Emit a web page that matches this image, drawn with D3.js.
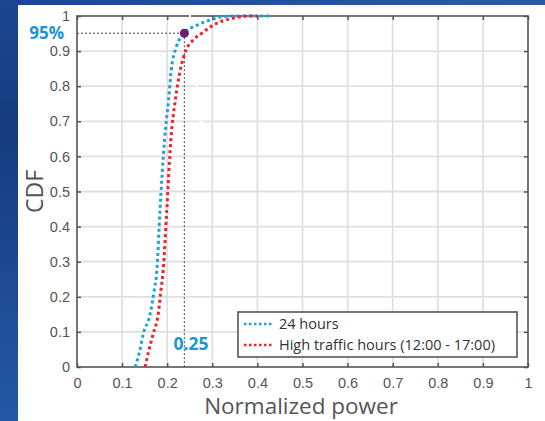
<!DOCTYPE html>
<html>
<head>
<meta charset="utf-8">
<script src="https://cdn.jsdelivr.net/npm/d3@7"></script>
<style>
  html, body { margin: 0; padding: 0; background: #fff; }
  svg { display: block; }
</style>
</head>
<body>
<div id="chart"></div>
<script>
// CDF values
const allDayX = [0.129, 0.138, 0.147, 0.162, 0.171, 0.177, 0.184, 0.194, 0.203, 0.209, 0.220, 0.238, 0.266, 0.296, 0.318, 0.350, 0.430];
const allDayY = [0, 0.04, 0.095, 0.15, 0.217, 0.274, 0.446, 0.646, 0.76, 0.846, 0.911, 0.951, 0.974, 0.989, 0.997, 1, 1];
const peakX = [0.151, 0.158, 0.169, 0.180, 0.186, 0.191, 0.199, 0.208, 0.218, 0.229, 0.242, 0.257, 0.277, 0.302, 0.347, 0.380, 0.400];
const peakY = [0, 0.04, 0.095, 0.15, 0.217, 0.274, 0.446, 0.646, 0.76, 0.846, 0.903, 0.931, 0.951, 0.974, 0.994, 1, 1];
const seriesNames = ['24 hours', 'High traffic hours (12:00 - 17:00)'];
const xTicks = [0, 0.1, 0.2, 0.3, 0.4, 0.5, 0.6, 0.7, 0.8, 0.9, 1];
const yTicks = [0, 0.1, 0.2, 0.3, 0.4, 0.5, 0.6, 0.7, 0.8, 0.9, 1];
const marker = { x: 0.238, y: 0.951, xLabel: '0.25', yLabel: '95%' };

const width = 545, height = 421;
const blue = '#1aa3dc', red = '#e8262b', axisCol = '#555', gridCol = '#e0e0e0';

const svg = d3.select('#chart').append('svg')
    .attr('width', width)
    .attr('height', height)
    .style('font-family', '"Open Sans", sans-serif');

// slide background
const defs = svg.append('defs');
const gl = defs.append('linearGradient').attr('id', 'bgLeft').attr('x1', 0).attr('y1', 0).attr('x2', 0).attr('y2', 1);
gl.append('stop').attr('offset', '0%').attr('stop-color', '#1c4790');
gl.append('stop').attr('offset', '30%').attr('stop-color', '#163b7e');
gl.append('stop').attr('offset', '100%').attr('stop-color', '#2558a5');
const gt = defs.append('linearGradient').attr('id', 'bgTop').attr('x1', 0).attr('y1', 0).attr('x2', 1).attr('y2', 0);
gt.append('stop').attr('offset', '0%').attr('stop-color', '#1c4790');
gt.append('stop').attr('offset', '100%').attr('stop-color', '#2a5ca6');

svg.append('rect').attr('width', width).attr('height', 5).attr('fill', 'url(#bgTop)');
svg.append('rect').attr('width', 18).attr('height', height).attr('fill', 'url(#bgLeft)');

const margin = { left: 77, right: 17, top: 16, bottom: 54 };
const x = d3.scaleLinear().domain([0, 1]).range([margin.left, width - margin.right]);
const y = d3.scaleLinear().domain([0, 1]).range([height - margin.bottom, margin.top]);

// grid
svg.append('g').selectAll('line.gx')
    .data(xTicks.slice(1, -1)).enter().append('line')
    .attr('x1', d => x(d)).attr('x2', d => x(d))
    .attr('y1', y(0)).attr('y2', y(1))
    .attr('stroke', gridCol).attr('stroke-width', 1.8);
svg.append('g').selectAll('line.gy')
    .data(yTicks.slice(1, -1)).enter().append('line')
    .attr('x1', x(0)).attr('x2', x(1))
    .attr('y1', d => y(d)).attr('y2', d => y(d))
    .attr('stroke', gridCol).attr('stroke-width', 1.8);

// axes with inward ticks
function styleAxis(g) {
    g.select('.domain').remove();
    g.selectAll('.tick line').attr('stroke', axisCol).attr('stroke-width', 1.5);
    g.selectAll('.tick text').attr('fill', axisCol).style('font-size', '14.5px');
}
svg.append('g').attr('transform', `translate(0,${y(0)})`)
    .call(d3.axisBottom(x).tickValues(xTicks).tickSize(-4).tickPadding(11).tickFormat(d3.format('~g')))
    .call(styleAxis);
svg.append('g').attr('transform', `translate(0,${y(1)})`)
    .call(d3.axisTop(x).tickValues(xTicks).tickSize(-4).tickFormat(''))
    .call(styleAxis);
svg.append('g').attr('transform', `translate(${x(0)},0)`)
    .call(d3.axisLeft(y).tickValues(yTicks).tickSize(-4).tickPadding(7).tickFormat(d3.format('~g')))
    .call(styleAxis);
svg.append('g').attr('transform', `translate(${x(1)},0)`)
    .call(d3.axisRight(y).tickValues(yTicks).tickSize(-4).tickFormat(''))
    .call(styleAxis);

svg.append('rect')
    .attr('x', x(0)).attr('y', y(1))
    .attr('width', x(1) - x(0)).attr('height', y(0) - y(1))
    .attr('fill', 'none').attr('stroke', axisCol).attr('stroke-width', 1.6);

// axis titles
svg.append('text')
    .attr('x', 301).attr('y', 414)
    .attr('text-anchor', 'middle')
    .attr('fill', axisCol).style('font-size', '22.5px')
    .text('Normalized power');
svg.append('text')
    .attr('transform', `translate(43,${(y(0) + y(1)) / 2}) rotate(-90)`)
    .attr('text-anchor', 'middle')
    .attr('fill', axisCol).style('font-size', '23px')
    .text('CDF');

// reference lines
svg.append('line')
    .attr('x1', x(0)).attr('x2', x(marker.x))
    .attr('y1', y(marker.y)).attr('y2', y(marker.y))
    .attr('stroke', '#444').attr('stroke-width', 1).attr('stroke-dasharray', '2,2');
svg.append('line')
    .attr('x1', x(marker.x)).attr('x2', x(marker.x))
    .attr('y1', y(marker.y)).attr('y2', y(0))
    .attr('stroke', '#444').attr('stroke-width', 1).attr('stroke-dasharray', '2,2');

// curves
const line = d3.line().x(d => x(d[0])).y(d => y(d[1])).curve(d3.curveMonotoneX);
const series = [
    { pts: d3.zip(allDayX, allDayY), color: blue },
    { pts: d3.zip(peakX, peakY), color: red }
];
svg.selectAll('path.cdf')
    .data(series).enter().append('path')
    .attr('class', 'cdf')
    .attr('d', d => line(d.pts))
    .attr('fill', 'none')
    .attr('stroke', d => d.color)
    .attr('stroke-width', 3)
    .attr('stroke-dasharray', '3,3');

// small white gaps seen on the original image
svg.append('rect').attr('x', 189).attr('y', 12).attr('width', 2).attr('height', 6).attr('fill', '#fff');
svg.append('rect').attr('x', 196).attr('y', 84).attr('width', 2).attr('height', 3).attr('fill', '#fff');
svg.append('rect').attr('x', 199).attr('y', 121).attr('width', 4).attr('height', 2).attr('fill', '#fff');

// marker
svg.append('circle')
    .attr('cx', x(marker.x)).attr('cy', y(marker.y))
    .attr('r', 4.5).attr('fill', '#6b1f6e');
svg.append('text')
    .attr('x', 64).attr('y', y(marker.y) + 6)
    .attr('text-anchor', 'end')
    .attr('fill', '#1a96d4').style('font-size', '17px').style('font-weight', 'bold')
    .text(marker.yLabel);
svg.append('text')
    .attr('x', 191).attr('y', 350)
    .attr('text-anchor', 'middle')
    .attr('fill', '#1a96d4').style('font-size', '17.5px').style('font-weight', 'bold')
    .text(marker.xLabel);

// legend
const lg = svg.append('g').attr('transform', 'translate(238,312)');
lg.append('rect')
    .attr('width', 279).attr('height', 45)
    .attr('fill', '#fff').attr('stroke', axisCol).attr('stroke-width', 1.6);
const items = lg.selectAll('g.item')
    .data(seriesNames).enter().append('g')
    .attr('transform', (d, i) => `translate(0,${12 + i * 21})`);
items.append('line')
    .attr('x1', 6).attr('x2', 34)
    .attr('stroke', (d, i) => series[i].color)
    .attr('stroke-width', 2.5)
    .attr('stroke-dasharray', '2.5,2.5');
items.append('text')
    .attr('x', 41).attr('y', 5)
    .attr('fill', '#333').style('font-size', '14.5px')
    .text(d => d);
</script>
</body>
</html>
